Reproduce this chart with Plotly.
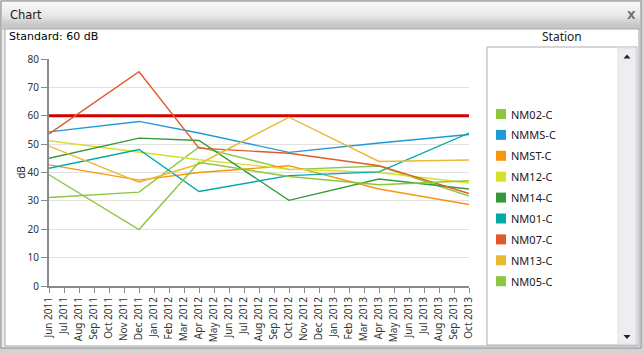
import plotly.graph_objects as go

# ---------------- data ----------------
months = ["Jun 2011", "Jul 2011", "Aug 2011", "Sep 2011", "Oct 2011", "Nov 2011",
          "Dec 2011", "Jan 2012", "Feb 2012", "Mar 2012", "Apr 2012", "May 2012",
          "Jun 2012", "Jul 2012", "Aug 2012", "Sep 2012", "Oct 2012", "Nov 2012",
          "Dec 2012", "Jan 2013", "Feb 2013", "Mar 2013", "Apr 2013", "May 2013",
          "Jun 2013", "Jul 2013", "Aug 2013", "Sep 2013", "Oct 2013"]
sample_months = ["Jun 2011", "Dec 2011", "Apr 2012", "Oct 2012", "Apr 2013", "Oct 2013"]

stations = ["NM02-C", "NMMS-C", "NMST-C", "NM12-C", "NM14-C", "NM01-C", "NM07-C", "NM13-C", "NM05-C"]
nm02 = [31.2, 33.1, 49.0, 41.0, 42.3, 31.7]
nmms = [54.3, 58.0, 53.9, 47.1, 50.4, 53.4]
nmst = [42.7, 37.3, 40.0, 42.4, 34.2, 28.7]
nm12 = [51.2, 47.2, 44.5, 41.2, 40.0, 36.3]
nm14 = [45.0, 52.1, 51.3, 30.2, 37.7, 34.2]
nm01 = [41.5, 48.1, 33.3, 38.9, 40.2, 53.9]
nm07 = [53.6, 75.5, 48.6, 46.8, 42.4, 32.6]
nm13 = [49.3, 36.6, 43.0, 59.5, 43.9, 44.4]
nm05 = [39.2, 19.9, 43.6, 38.6, 35.7, 37.1]
series = [nm02, nmms, nmst, nm12, nm14, nm01, nm07, nm13, nm05]
standard_db = 60

# ---------------- styles ----------------
colors = ["#8dc63f", "#1f9ad8", "#f7960c", "#d5df2c", "#349a35",
          "#00aaa6", "#e05a28", "#e9b934", "#8dc63f"]

W, H = 644, 354
L, T, PW, PH = 49, 59, 420, 227


def px(x):
    return (x - L) / PW


def py(y):
    return (T + PH - y) / PH


shapes = []
annotations = []


def rect(x0, y0, x1, y1, fill, line=None, lw=1):
    shapes.append(dict(type="rect", xref="paper", yref="paper",
                       x0=px(x0), x1=px(x1), y0=py(y1), y1=py(y0),
                       fillcolor=fill, layer="below",
                       line=dict(color=line or "rgba(0,0,0,0)", width=lw if line else 0)))


# page behind the dialog
rect(0, 0, W, H, "#d3d3d3")
# dialog chrome
rect(1, 1, 641, 348, "#ececec", "#8c8c8c")
# title bar gradient
grad = ["#f7f7f7", "#f5f5f5", "#f2f2f2", "#f0f0f0", "#eeeeee", "#ebebeb", "#e8e8e8",
        "#e3e3e3", "#dcdcdc", "#d4d4d4", "#cdcdcd", "#c8c8c8", "#c6c6c6", "#c9c9c9"]
for i, c in enumerate(grad):
    rect(2, 2 + i * 2, 640, 4 + i * 2, c)
# content area
rect(5, 29, 639, 346, "#ffffff", "#a6a6a6")
# legend box
rect(487, 47, 637, 345, "#ffffff", "#a8adb5")
# scrollbar
rect(618, 48, 636, 344, "#eceef1", "#dde0e4")
shapes.append(dict(type="path", xref="paper", yref="paper", layer="above",
                   path=f"M {px(623.5)} {py(58.5)} L {px(630.5)} {py(58.5)} L {px(627)} {py(54.5)} Z",
                   fillcolor="#222222", line=dict(width=0)))
shapes.append(dict(type="path", xref="paper", yref="paper", layer="above",
                   path=f"M {px(623.5)} {py(335)} L {px(630.5)} {py(335)} L {px(627)} {py(339)} Z",
                   fillcolor="#222222", line=dict(width=0)))

# texts
annotations.append(dict(text="Chart", x=px(8), y=py(15), xref="paper", yref="paper",
                        xanchor="left", yanchor="middle", showarrow=False,
                        font=dict(family="DejaVu Sans", size=11.5, color="#1a1a1a")))
annotations.append(dict(text="<b>X</b>", x=px(638), y=py(15), xref="paper", yref="paper",
                        xanchor="right", yanchor="middle", showarrow=False,
                        font=dict(family="DejaVu Sans", size=11, color="#707070")))
annotations.append(dict(text="Standard: 60 dB", x=px(7), y=py(37), xref="paper", yref="paper",
                        xanchor="left", yanchor="middle", showarrow=False,
                        font=dict(family="DejaVu Sans", size=11, color="#000000")))
annotations.append(dict(text="Station", x=px(562), y=py(37), xref="paper", yref="paper",
                        xanchor="center", yanchor="middle", showarrow=False,
                        font=dict(family="Noto Sans", size=12, color="#1a1a1a")))

# legend (drawn like the reference: square swatches)
for i, (name, c) in enumerate(zip(stations, colors)):
    yc = 114 + i * 20.9
    shapes.append(dict(type="rect", xref="paper", yref="paper", layer="above",
                       x0=px(496), x1=px(506), y0=py(yc + 5), y1=py(yc - 5),
                       fillcolor=c, line=dict(width=0)))
    annotations.append(dict(text=name, x=px(508.5), y=py(yc), xref="paper", yref="paper",
                            xanchor="left", yanchor="middle", showarrow=False,
                            font=dict(family="Noto Sans", size=11, color="#1a1a1a")))

fig = go.Figure()

fig.add_trace(go.Scatter(x=[months[0], months[-1]], y=[standard_db, standard_db],
                         mode="lines", line=dict(color="#d40000", width=3),
                         name="Standard", showlegend=False, hoverinfo="skip"))

for name, vals, c in zip(stations, series, colors):
    fig.add_trace(go.Scatter(x=sample_months, y=vals, mode="lines", name=name,
                             line=dict(color=c, width=1.4), showlegend=False))

fig.update_layout(
    width=W, height=H,
    margin=dict(l=L, r=W - L - PW, t=T, b=H - T - PH, pad=0),
    paper_bgcolor="#ffffff",
    plot_bgcolor="rgba(0,0,0,0)",
    showlegend=False,
    shapes=shapes,
    annotations=annotations,
    xaxis=dict(type="category", categoryorder="array", categoryarray=months,
               range=[0, len(months) - 1], tickmode="array", tickvals=months,
               ticktext=months, tickangle=-90, showgrid=False, zeroline=False,
               showline=True, linecolor="#8a8a8a", linewidth=2,
               ticks="outside", ticklen=5, tickcolor="#8a8a8a", tickwidth=1,
               tickfont=dict(family="Noto Sans", size=10, color="#333333")),
    yaxis=dict(range=[0, 80], dtick=10, tick0=0, showgrid=True, gridcolor="#e2e2e2",
               gridwidth=1, zeroline=False, showline=True, linecolor="#8a8a8a",
               linewidth=2, ticks="outside", ticklen=6, tickcolor="#8a8a8a",
               tickwidth=1, tickfont=dict(family="Noto Sans", size=10, color="#333333"),
               title=dict(text="dB", standoff=0,
                          font=dict(family="Noto Sans", size=10, color="#1a1a1a"))),
)

fig.write_html("out.html")
